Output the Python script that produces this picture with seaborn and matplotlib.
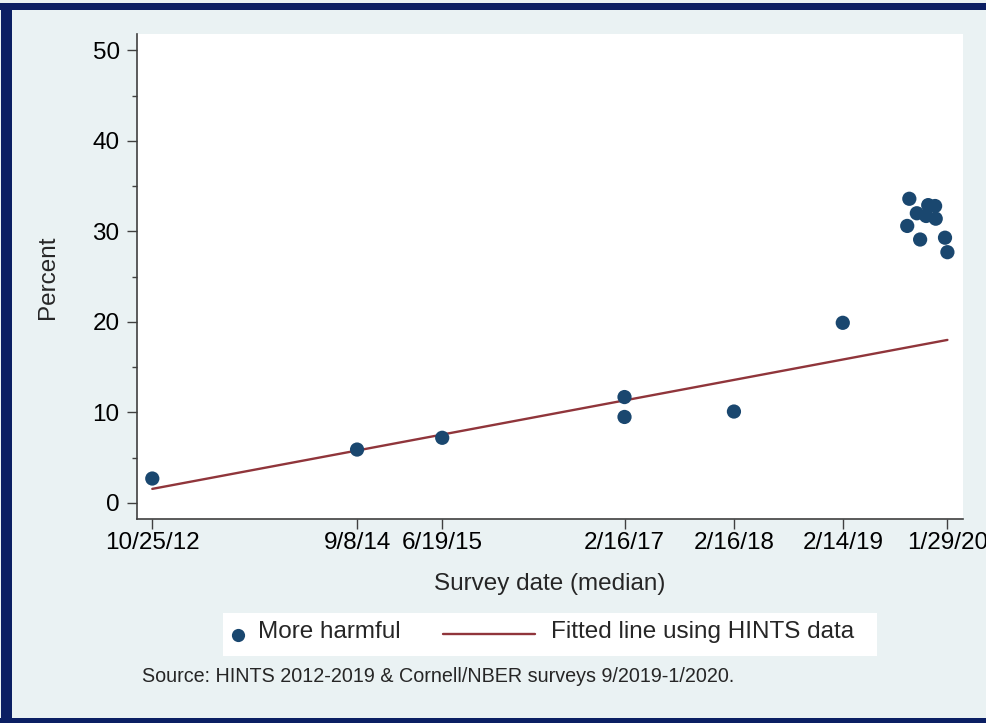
import numpy as np
import pandas as pd
import matplotlib
matplotlib.use("Agg")
import matplotlib.pyplot as plt
import matplotlib.dates as mdates
from matplotlib.patches import Rectangle
from matplotlib.lines import Line2D
import seaborn as sns

# HINTS survey waves (median survey date) and share saying "more harmful"
hints_dates = ["2012-10-25", "2014-09-08", "2015-06-19", "2017-02-16",
               "2017-02-16", "2018-02-16", "2019-02-14"]
hints_pct = [2.7, 5.9, 7.2, 11.7, 9.5, 10.1, 19.9]

# Cornell/NBER survey waves, 9/2019-1/2020
cornell_dates = ["2019-09-24", "2019-11-26", "2019-12-19", "2019-10-19",
                 "2019-11-19", "2019-12-21", "2019-09-17", "2019-10-30",
                 "2020-01-21", "2020-01-29"]
cornell_pct = [33.6, 32.9, 32.8, 32.0, 31.7, 31.4, 30.6, 29.1, 29.3, 27.7]

tick_dates = ["2012-10-25", "2014-09-08", "2015-06-19", "2017-02-16",
              "2018-02-16", "2019-02-14", "2020-01-29"]
tick_labels = ["10/25/12", "9/8/14", "6/19/15", "2/16/17",
               "2/16/18", "2/14/19", "1/29/20"]

y_ticks = [0, 10, 20, 30, 40, 50]

legend_labels = ["More harmful", "Fitted line using HINTS data"]
source_note = "Source: HINTS 2012-2019 & Cornell/NBER surveys 9/2019-1/2020."

BG = "#eaf2f3"
NAVY = "#0b1f63"
DOT = "#1a476f"
FIT = "#90353b"
AXC = "#404040"

sns.set_theme(style="ticks")
plt.rcParams["font.family"] = ["Liberation Sans", "DejaVu Sans"]

W, H = 987, 723
fig = plt.figure(figsize=(W / 100, H / 100), dpi=100, facecolor=BG)


def fx(px):
    return px / W


def fy(py):
    return 1 - py / H


def px_box(x0, y0, x1, y1):
    return [fx(x0), fy(y1), (x1 - x0) / W, (y1 - y0) / H]


ax = fig.add_axes(px_box(137, 34, 963, 519))
ax.set_facecolor("white")

points = pd.DataFrame({
    "date": pd.to_datetime(hints_dates + cornell_dates),
    "pct": hints_pct + cornell_pct,
})
points["x"] = mdates.date2num(points["date"])

# Linear fit on the HINTS waves only, drawn across the full survey period
hx = mdates.date2num(pd.to_datetime(hints_dates))
slope, intercept = np.polyfit(hx, hints_pct, 1)
x_ends = np.array([points["x"].min(), points["x"].max()])
fit_df = pd.DataFrame({"x": x_ends, "pct": slope * x_ends + intercept})

sns.lineplot(data=fit_df, x="x", y="pct", color=FIT, lw=1.7, ax=ax, zorder=2)
sns.scatterplot(data=points, x="x", y="pct", color=DOT, s=105,
                edgecolor="none", ax=ax, zorder=3)

t0 = mdates.date2num(pd.Timestamp("2012-10-25"))
ax.set_xlim(t0 - 51, t0 + 2704)
ax.set_ylim(-1.77, 51.8)

ax.set_xticks(mdates.date2num(pd.to_datetime(tick_dates)))
ax.set_xticklabels(tick_labels)
ax.set_yticks(y_ticks)
ax.set_yticklabels([str(v) for v in y_ticks])
ax.set_yticks([5, 15, 25, 35, 45], minor=True)

ax.tick_params(axis="both", which="major", labelsize=17.5, colors=AXC,
               labelcolor="black", length=7.5, width=1.0)
ax.tick_params(axis="y", which="minor", length=3.8, width=1.0, colors=AXC)
ax.tick_params(axis="y", which="major", pad=5)
ax.tick_params(axis="x", which="major", pad=2)

for side in ["top", "right"]:
    ax.spines[side].set_visible(False)
for side in ["left", "bottom"]:
    ax.spines[side].set_color(AXC)
    ax.spines[side].set_linewidth(1.2)

ax.set_xlabel("")
ax.set_ylabel("")
fig.text(fx(550), fy(584), "Survey date (median)", fontsize=17.5,
         ha="center", va="center")
fig.text(fx(48), fy(277), "Percent", fontsize=17.5, rotation=90,
         ha="center", va="center")

# Legend: white key box with a dot key and a line key
fig.patches.append(Rectangle((fx(223), fy(656)), (877 - 223) / W,
                             (656 - 613) / H, transform=fig.transFigure,
                             facecolor="white", edgecolor="none", zorder=4))
fig.lines.append(Line2D([fx(238)], [fy(635)], marker="o", ls="none",
                        color=DOT, markersize=9.5, markeredgewidth=0,
                        transform=fig.transFigure, zorder=5))
fig.lines.append(Line2D([fx(443), fx(535)], [fy(634), fy(634)], color=FIT,
                        lw=1.7, transform=fig.transFigure, zorder=5))
fig.text(fx(258), fy(632), legend_labels[0], fontsize=17.5,
         ha="left", va="center", zorder=6)
fig.text(fx(551), fy(632), legend_labels[1], fontsize=17.5,
         ha="left", va="center", zorder=6)

fig.text(fx(142), fy(677), source_note, fontsize=14.2,
         ha="left", va="center")

# Dark outer frame
for box in [(0, 3, W, 10), (1, 3, 12, H), (0, 718, W, H)]:
    fig.patches.append(Rectangle((fx(box[0]), fy(box[3])),
                                 (box[2] - box[0]) / W,
                                 (box[3] - box[1]) / H,
                                 transform=fig.transFigure,
                                 facecolor=NAVY, edgecolor="none", zorder=10))

fig.savefig("out.png", dpi=100, facecolor=BG)
